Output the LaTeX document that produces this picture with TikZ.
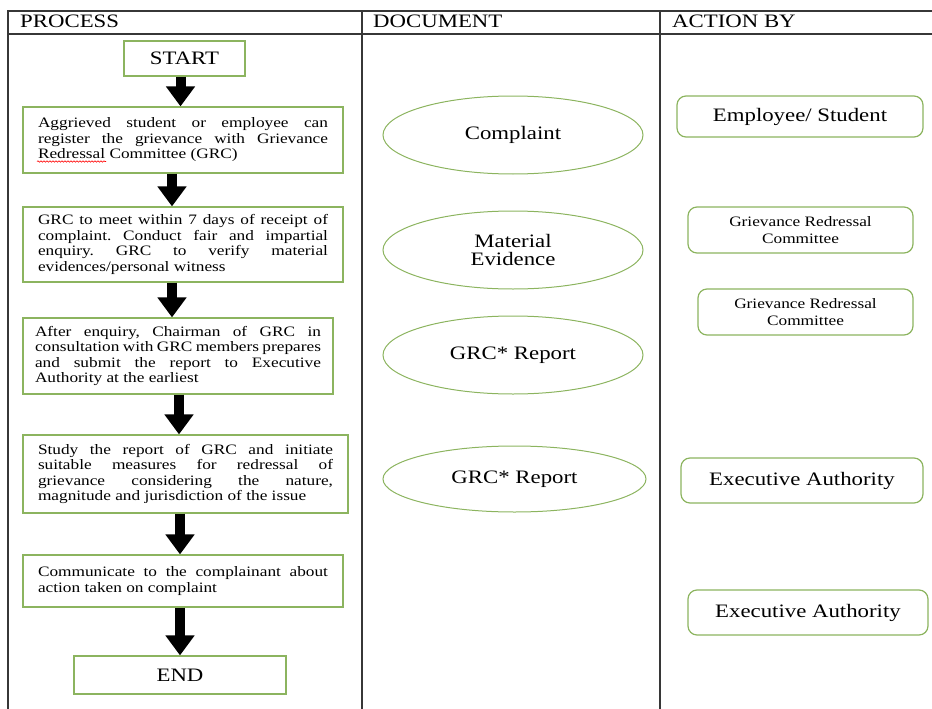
\documentclass[tikz,border=0pt]{standalone}
\usepackage{fontspec}
\setmainfont[FakeStretch=1.2]{Liberation Serif}
\usepackage{tikz}
\usetikzlibrary{shapes.geometric, arrows.meta, decorations.pathmorphing}

\definecolor{boxgreen}{RGB}{140,180,95}
\definecolor{rulegray}{RGB}{55,55,55}

\frenchspacing
\tolerance=10000
\hbadness=10000

\tikzset{
	proc/.style = {draw=boxgreen, line width=1.2pt, text width=290pt, align=justify,
		inner xsep=15pt, inner ysep=0pt, font=\fontsize{14.4}{15.5}\selectfont},
	term/.style = {draw=boxgreen, line width=1.2pt, inner sep=0pt,
		font=\fontsize{19}{22}\selectfont},
	doc/.style = {ellipse, draw=boxgreen, line width=1pt, inner sep=0pt, align=center,
		minimum width=260pt, minimum height=78pt, font=\fontsize{19}{18.5}\selectfont},
	actor/.style = {draw=boxgreen, line width=1.2pt, rounded corners=9pt, inner sep=0pt,
		align=center, font=\fontsize{19}{22}\selectfont},
	small/.style = {font=\fontsize{14.4}{16.5}\selectfont},
	head/.style = {anchor=base west, inner sep=0pt, font=\fontsize{19}{22}\selectfont},
	flow/.style = {line width=10pt, -{Triangle[width=28pt, length=20pt]}}
}

\begin{document}
\begin{tikzpicture}[x=1pt, y=-1pt]
\useasboundingbox (0,0) rectangle (932,709);

% table
\draw[rulegray, line width=1.5pt] (932,11) -- (8,11) -- (8,709);
\draw[rulegray, line width=1.5pt] (8,34) -- (932,34);
\draw[rulegray, line width=1.5pt] (362,11) -- (362,709);
\draw[rulegray, line width=1.5pt] (660,11) -- (660,709);

\node[head] (hprocess) at (20,28) {PROCESS};
\node[head] (hdocument) at (373,28) {DOCUMENT};
\node[head] (haction) at (672,28) {ACTION BY};

% process
\node[term, minimum width=121pt, minimum height=35pt] (start) at (184.5,58.5) {START};
\node[proc, minimum height=66pt] (register) at (183,140)
	{Aggrieved student or employee can\linebreak
	register the grievance with Grievance\linebreak
	Redressal Committee (GRC)};
\node[proc, minimum height=75pt] (meet) at (183,244.5)
	{GRC to meet within 7 days of receipt of\linebreak
	complaint. Conduct fair and impartial\linebreak
	enquiry. GRC to verify material\linebreak
	evidences/personal witness};
\node[proc, text width=286pt, inner xsep=12pt, minimum height=76pt] (enquiry) at (178,356)
	{After enquiry, Chairman of GRC in\linebreak
	consultation with GRC members prepares\linebreak
	and submit the report to Executive\linebreak
	Authority at the earliest};
\node[proc, text width=295pt, minimum height=78pt] (study) at (185.5,474)
	{Study the report of GRC and initiate\linebreak
	suitable measures for redressal of\linebreak
	grievance considering the nature,\linebreak
	magnitude and jurisdiction of the issue};
\node[proc, minimum height=52pt] (inform) at (183,581)
	{Communicate to the complainant about\linebreak
	action taken on complaint};
\node[term, minimum width=212pt, minimum height=38pt] (end) at (180,675) {END};

\draw[red, line width=0.6pt, decorate, decoration={snake, amplitude=0.7pt, segment length=3pt}]
	(37,161.5) -- (106,161.5);

\draw[flow] ([xshift=-4pt]start.south) -- ([xshift=-4pt]start.south |- register.north);
\draw[flow] ([xshift=-11pt]register.south) -- ([xshift=-11pt]register.south |- meet.north);
\draw[flow] ([xshift=-11pt]meet.south) -- ([xshift=-11pt]meet.south |- enquiry.north);
\draw[flow] ([xshift=1pt]enquiry.south) -- ([xshift=1pt]enquiry.south |- study.north);
\draw[flow] ([xshift=-5.5pt]study.south) -- ([xshift=-5.5pt]study.south |- inform.north);
\draw[flow] ([xshift=-3pt]inform.south) -- ([xshift=-3pt]inform.south |- end.north);

% document
\node[doc] (complaint) at (513,135) {Complaint};
\node[doc] (evidence) at (513,250) {Material\\Evidence};
\node[doc] (report) at (513,355) {GRC* Report};
\node[doc, minimum width=263pt, minimum height=66pt] (review) at (514.5,479) {GRC* Report};

% action by
\node[actor, minimum width=246pt, minimum height=41pt] (employee) at (800,116.5) {Employee/ Student};
\node[actor, small, minimum width=225pt, minimum height=46pt] (committee) at (800.5,230)
	{Grievance Redressal\\Committee};
\node[actor, small, minimum width=215pt, minimum height=46pt] (members) at (805.5,312)
	{Grievance Redressal\\Committee};
\node[actor, minimum width=242pt, minimum height=45pt] (authority) at (802,480.5) {Executive Authority};
\node[actor, minimum width=240pt, minimum height=45pt] (closure) at (808,612.5) {Executive Authority};
\end{tikzpicture}
\end{document}
